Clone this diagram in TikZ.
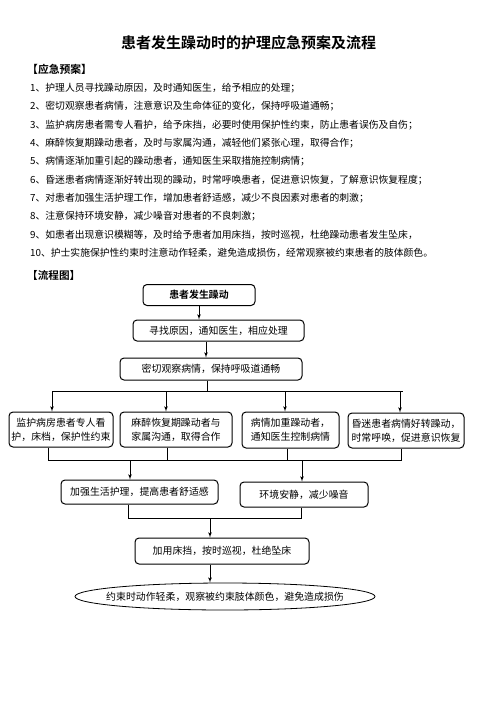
\documentclass[tikz,border=0pt]{standalone}
\usepackage{fontspec}
\setmainfont{Noto Sans CJK SC}[BoldFont={Noto Sans CJK SC Bold}]
\usepackage{tikz}
\usetikzlibrary{shapes,arrows,arrows.meta}
\usetikzlibrary{positioning}
\newcommand{\bodyfont}{\fontsize{9.8}{14}\selectfont}
\newcommand{\boxfont}{\fontsize{9.9}{14}\selectfont}
\tikzstyle{item} = [anchor=west, inner sep=0pt, font=\bodyfont]
\tikzstyle{block} = [rectangle, draw, line width=1pt, rounded corners=4pt,
    inner sep=1pt, align=center, font=\boxfont]
\tikzstyle{line} = [draw, line width=0.8pt, -latex']
\tikzstyle{bus} = [draw, line width=0.8pt]

\begin{document}
\begin{tikzpicture}[x=1pt,y=-1pt]
\useasboundingbox (0,0) rectangle (496,702);

% Title and headings
\node [font=\fontsize{15}{18}\selectfont\bfseries] (title) at (248.5,43) {患者发生躁动时的护理应急预案及流程};
\node [item, font=\fontsize{10.8}{13}\selectfont\bfseries] (plan) at (27,69) {【应急预案】};

% Plan items
\node [item] (item1) at (30,88) {1、护理人员寻找躁动原因，及时通知医生，给予相应的处理；};
\node [item] (item2) at (30,106.3) {2、密切观察患者病情，注意意识及生命体征的变化，保持呼吸道通畅；};
\node [item] (item3) at (30,124.7) {3、监护病房患者需专人看护，给予床挡，必要时使用保护性约束，防止患者误伤及自伤；};
\node [item] (item4) at (30,143) {4、麻醉恢复期躁动患者，及时与家属沟通，减轻他们紧张心理，取得合作；};
\node [item] (item5) at (30,161.4) {5、病情逐渐加重引起的躁动患者，通知医生采取措施控制病情；};
\node [item] (item6) at (30,179.7) {6、昏迷患者病情逐渐好转出现的躁动，时常呼唤患者，促进意识恢复，了解意识恢复程度；};
\node [item] (item7) at (30,198.1) {7、对患者加强生活护理工作，增加患者舒适感，减少不良因素对患者的刺激；};
\node [item] (item8) at (30,216.4) {8、注意保持环境安静，减少噪音对患者的不良刺激；};
\node [item] (item9) at (30,234.8) {9、如患者出现意识模糊等，及时给予患者加用床挡，按时巡视，杜绝躁动患者发生坠床，};
\node [item] (item10) at (30,253.1) {10、护士实施保护性约束时注意动作轻柔，避免造成损伤，经常观察被约束患者的肢体颜色。};

\node [item, font=\fontsize{10.6}{13}\selectfont\bfseries] (chart) at (27,275) {【流程图】};

% Place nodes
\node [block, font=\boxfont\bfseries, minimum width=112, minimum height=21] (onset) at (199,295) {患者发生躁动};
\node [block, minimum width=171, minimum height=21] (cause) at (218.5,330.5) {寻找原因，通知医生，相应处理};
\node [block, minimum width=182, minimum height=22] (observe) at (211,369) {密切观察病情，保持呼吸道通畅};

\node [block, minimum width=104, minimum height=35] (monitor) at (61,429.5) {监护病房患者专人看\\护，床档，保护性约束};
\node [block, minimum width=112, minimum height=35] (anesth) at (176,429.5) {麻醉恢复期躁动者与\\家属沟通，取得合作};
\node [block, minimum width=97, minimum height=36] (worsen) at (290.5,430) {病情加重躁动者，\\通知医生控制病情};
\node [block, minimum width=116, minimum height=35] (coma) at (406,430.5) {昏迷患者病情好转躁动，\\时常呼唤，促进意识恢复};

\node [block, minimum width=157, minimum height=24] (comfort) at (139.5,492) {加强生活护理，提高患者舒适感};
\node [block, minimum width=128, minimum height=25] (quiet) at (304,494.5) {环境安静，减少噪音};

\node [block, minimum width=174, minimum height=26] (rail) at (222,551) {加用床挡，按时巡视，杜绝坠床};
\node [ellipse, draw, line width=0.8pt, inner xsep=-14pt, inner ysep=0pt, font=\boxfont, minimum width=300, minimum height=27] (restrain) at (225,596.5) {约束时动作轻柔，观察被约束肢体颜色，避免造成损伤};

% Junction points
\coordinate (c1) at (206,0);
\coordinate (split) at (207,391);
\coordinate (t1) at (52,391);
\coordinate (t2) at (166,391);
\coordinate (t3) at (285,391);
\coordinate (t4) at (400,391);
\coordinate (b1) at (48,460);
\coordinate (b2) at (167,460);
\coordinate (b3) at (287,460);
\coordinate (b4) at (401,460);
\coordinate (m1) at (130,460);
\coordinate (m2) at (302,460);
\coordinate (j1) at (128,518);
\coordinate (j2) at (301,518);
\coordinate (join) at (210,518);

% Draw edges
\path [line] (onset.south) -- (onset.south |- cause.north);
\path [line] (cause.south -| c1) -- (observe.north -| c1);
\path [bus] (observe.south -| split) -- (split);
\path [bus] (t1) -- ([xshift=3pt]t4);
\path [line] (t1) -- (t1 |- monitor.north);
\path [line] (t2) -- (t2 |- anesth.north);
\path [line] (t3) -- (t3 |- worsen.north);
\path [line] (t4) -- (t4 |- coma.north);

\path [bus] (monitor.south -| b1) -- (b1) -- (b4) -- (coma.south -| b4);
\path [bus] (anesth.south -| b2) -- (b2);
\path [bus] (worsen.south -| b3) -- (b3);
\path [line] (m1) -- (m1 |- comfort.north);
\path [line] (m2) -- (m2 |- quiet.north);

\path [bus] (comfort.south -| j1) -- (j1) -- (j2) -- (quiet.south -| j2);
\path [line] (join) -- (join |- rail.north);
\path [line] (rail.south -| join) -- (restrain.north -| join);
\end{tikzpicture}
\end{document}
